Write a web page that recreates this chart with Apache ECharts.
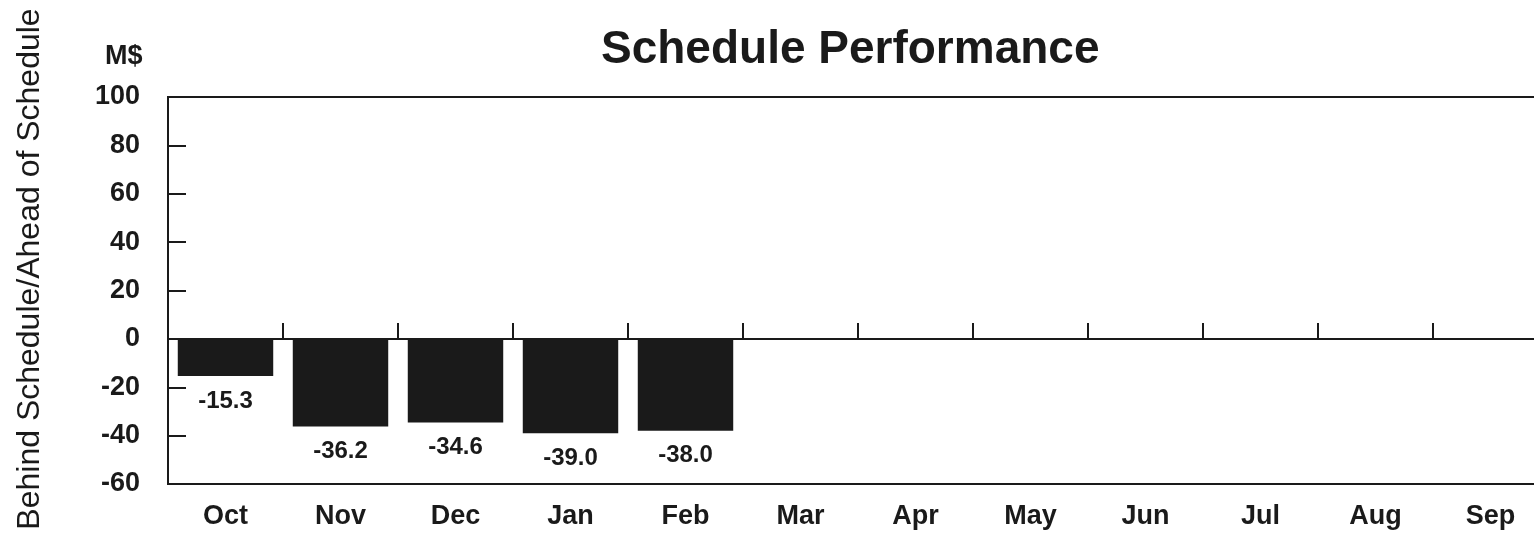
<!DOCTYPE html>
<html>
<head>
<meta charset="utf-8">
<title>Schedule Performance</title>
<script src="https://cdn.jsdelivr.net/npm/echarts@6/dist/echarts.min.js"></script>
<style>
	html, body { margin: 0; padding: 0; background: #fff; }
	#chart { width: 1534px; height: 537px; }
</style>
</head>
<body>
<div id="chart"></div>
<script>
var months = ['Oct', 'Nov', 'Dec', 'Jan', 'Feb', 'Mar', 'Apr', 'May', 'Jun', 'Jul', 'Aug', 'Sep'];
var performance = [-15.3, -36.2, -34.6, -39.0, -38.0, null, null, null, null, null, null, null];
var yMin = -60, yMax = 100, yStep = 20;

var ink = '#1a1a1a';
var font = 'Liberation Sans';

var chart = echarts.init(document.getElementById('chart'));

var option = {
	animation: false,
	title: [{
		text: 'Schedule Performance',
		left: 596,
		top: 22,
		textStyle: { color: ink, fontFamily: font, fontSize: 46, fontWeight: 'bold' }
	}, {
		text: 'M$',
		left: 100,
		top: 38,
		textStyle: { color: ink, fontFamily: font, fontSize: 27, fontWeight: 'bold', letterSpacing: -3 }
	}],
	graphic: [{
		type: 'text',
		x: 30,
		y: 269,
		rotation: Math.PI / 2,
		style: {
			text: 'Behind Schedule/Ahead of Schedule',
			fill: ink,
			font: '32px "Liberation Sans"',
			align: 'center',
			verticalAlign: 'middle'
		}
	}],
	grid: {
		left: 168,
		top: 97,
		width: 1380,
		height: 387,
		show: true,
		borderColor: ink,
		borderWidth: 2,
		outerBoundsMode: 'none'
	},
	xAxis: [{
		type: 'category',
		data: months,
		position: 'bottom',
		axisLine: { onZero: false, lineStyle: { color: ink, width: 2 } },
		axisTick: { show: false },
		axisLabel: { color: ink, fontFamily: font, fontSize: 27, fontWeight: 'bold', margin: 19, interval: 0 }
	}, {
		type: 'category',
		data: months,
		position: 'bottom',
		axisLine: { onZero: true, lineStyle: { color: ink, width: 2 } },
		axisTick: { show: true, inside: true, length: 16, lineStyle: { color: ink, width: 2 } },
		axisLabel: { show: false }
	}],
	yAxis: {
		type: 'value',
		min: yMin,
		max: yMax,
		interval: yStep,
		axisLine: { show: true, onZero: false, lineStyle: { color: ink, width: 2 } },
		axisTick: { show: true, inside: true, length: 18, lineStyle: { color: ink, width: 2 } },
		axisLabel: { color: ink, fontFamily: font, fontSize: 27, fontWeight: 'bold', margin: 28 },
		splitLine: { show: false }
	},
	series: [{
		type: 'bar',
		xAxisIndex: 0,
		data: performance,
		barCategoryGap: '17%',
		itemStyle: { color: ink },
		label: {
			show: true,
			position: 'bottom',
			distance: 13,
			color: ink,
			fontFamily: font,
			fontSize: 24,
			fontWeight: 'bold',
			formatter: function (p) { return p.value == null ? '' : p.value.toFixed(1); }
		}
	}]
};
chart.setOption(option);
</script>
</body>
</html>
